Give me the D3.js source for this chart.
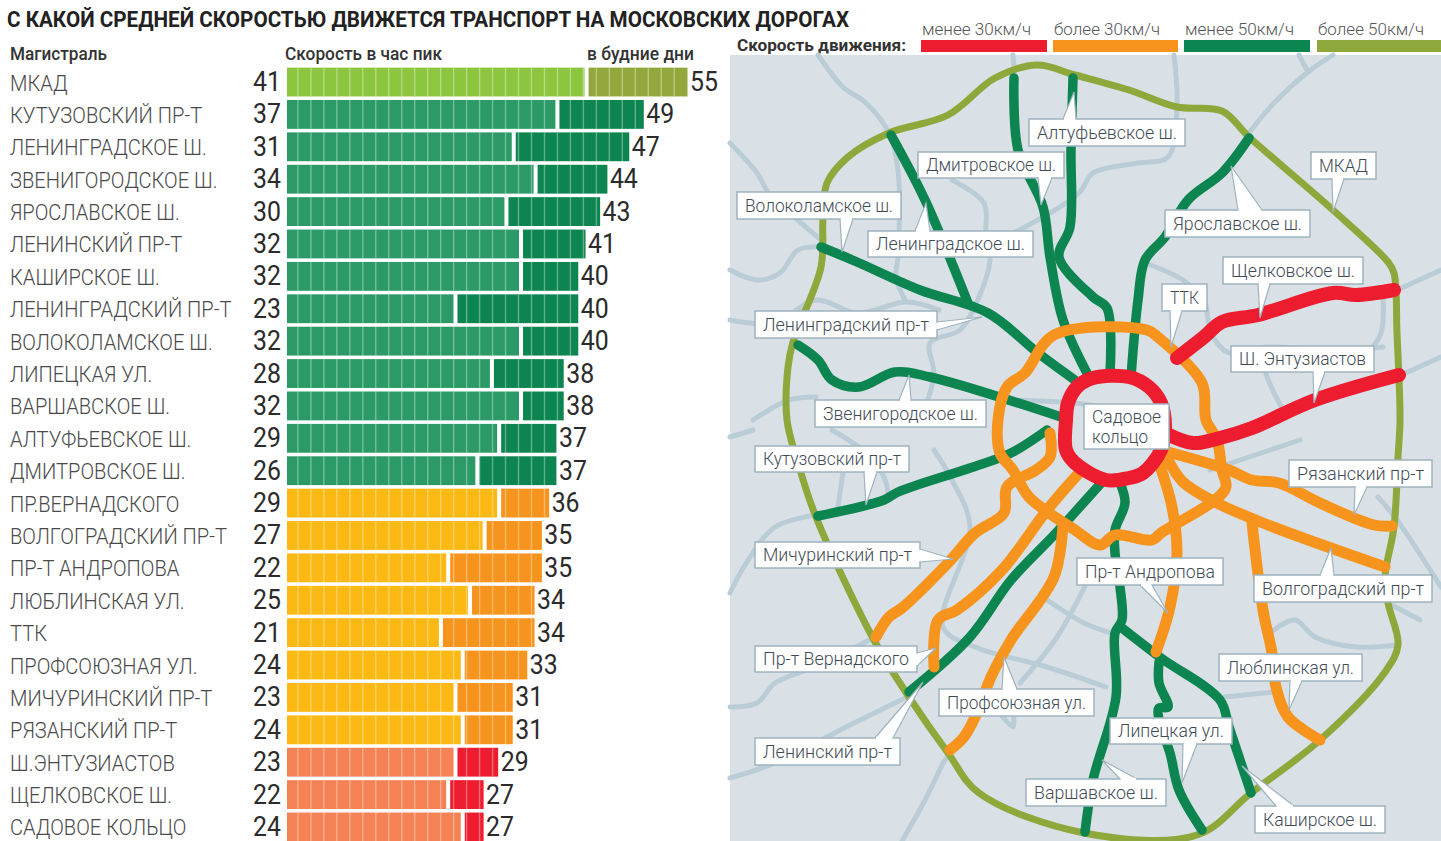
<!DOCTYPE html>
<html><head><meta charset="utf-8">
<script src="https://cdn.jsdelivr.net/npm/d3@7"></script>
<style>html,body{margin:0;padding:0;background:#fff;overflow:hidden}svg{display:block}text{font-family:Roboto,"Liberation Sans",sans-serif}</style>
</head><body><svg id="c" width="1441" height="841"></svg>
<script>
const categories=["МКАД","КУТУЗОВСКИЙ ПР-Т","ЛЕНИНГРАДСКОЕ Ш.","ЗВЕНИГОРОДСКОЕ Ш.","ЯРОСЛАВСКОЕ Ш.","ЛЕНИНСКИЙ ПР-Т","КАШИРСКОЕ Ш.","ЛЕНИНГРАДСКИЙ ПР-Т","ВОЛОКОЛАМСКОЕ Ш.","ЛИПЕЦКАЯ УЛ.","ВАРШАВСКОЕ Ш.","АЛТУФЬЕВСКОЕ Ш.","ДМИТРОВСКОЕ Ш.","ПР.ВЕРНАДСКОГО","ВОЛГОГРАДСКИЙ ПР-Т","ПР-Т АНДРОПОВА","ЛЮБЛИНСКАЯ УЛ.","ТТК","ПРОФСОЮЗНАЯ УЛ.","МИЧУРИНСКИЙ ПР-Т","РЯЗАНСКИЙ ПР-Т","Ш.ЭНТУЗИАСТОВ","ЩЕЛКОВСКОЕ Ш.","САДОВОЕ КОЛЬЦО"];
const peakSpeed=[41,37,31,34,30,32,32,23,32,28,32,29,26,29,27,22,25,21,24,23,24,23,22,24];
const weekdaySpeed=[55,49,47,44,43,41,40,40,40,38,38,37,37,36,35,35,34,34,33,31,31,29,27,27];
const legendLabels=["менее 30км/ч","более 30км/ч","менее 50км/ч","более 50км/ч"];
const roadColors={red:"#ed1c2e",orange:"#f7941d",green:"#0d8550",olive:"#8fa83b"};
const bandColors={olive:["#8cc63f","#93a83c"],green:["#2b9a66","#0d8550"],orange:["#fdb913","#f7941d"],red:["#f58254","#ed1c2e"]};
const gridStep=1.782;
const bgRoads=[
[818,55,843,87,866,103,889,133,898,170,898,257,896,277,905,300],
[730,143,757,173,771,197,800,222,821,240],
[730,270,757,280,780,273,798,250,821,247],
[952,180,984,203,986,233,990,260,979,297,960,330,930,343,934,375,920,420],
[1013,55,1015,78],
[1174,55,1177,107,1168,157,1138,163,1093,173,1079,193,1025,227,985,245],
[1333,55,1308,72,1274,103,1249,133],
[1299,55,1308,72],
[1145,263,1183,280,1204,300,1211,333,1229,353,1270,347,1330,350,1383,347],
[1397,290,1441,270],[1401,375,1441,357],
[1383,293,1381,333,1370,350],
[1265,347,1265,370,1283,410],
[730,320,775,323,816,300,857,313,907,302,939,310],
[753,420,789,400,816,397],
[730,437,753,430],
[832,430,866,453,884,477,889,500],
[843,473,837,513],
[816,515,775,527,745,565,730,593],
[934,450,952,480,970,527,943,627,975,647,1047,667,1106,687],
[1224,697,1274,692],
[730,707,757,703,775,683,820,665,875,637],
[730,778,775,763,850,725,907,697],
[902,841,925,800,943,763],
[943,763,1005,690,1013,727,990,700],
[1093,570,1057,637,1020,683],
[1047,600,1084,623,1111,633],
[1274,630,1295,620,1315,637,1356,647,1397,645],
[1378,497,1397,520,1441,587],
[1388,603,1420,620],
[1210,470,1300,440],
[1007,400,1090,405,1120,415]
];
const mkad=[1037,65,1075,75,1129,90,1177,107,1222,111,1249,137,1333,210,1388,262,1394,273,1397,333,1400,420,1398,457,1394,527,1385,577,1388,603,1398,645,1385,672,1320,740,1251,793,1197,835,1084,833,979,793,948,753,909,697,875,642,816,517,798,463,787,420,788,367,793,342,821,267,823,217,827,183,848,157,889,133,948,115,995,78];
const greenRoads=[
[1073,78,1071,150,1070,227,1059,257,1093,297,1107,308,1110,373],
[1014,78,1018,150,1043,207,1050,257,1063,320,1088,375],
[891,135,925,200,968,303],
[821,247,857,262,920,290,988,313,1038,353,1079,383],
[798,345,818,360,832,380,859,387,895,372,930,377,1061,417],
[1249,138,1222,173,1188,200,1165,237,1145,260,1138,300,1131,377],
[818,516,884,500,898,492,970,468,1011,453,1047,430],
[1102,482,1056,533,1011,580,970,637,909,692],
[1120,483,1125,503,1115,530,1115,553,1120,587,1122,620,1115,633,1116,697,1093,780,1085,832],
[1122,628,1161,658,1220,700,1229,727,1251,793],
[1159,662,1159,683,1168,707,1159,708,1159,720,1170,753,1179,790,1202,830]
];
const orangeRoads=[
[1050,433,1050,457,1036,470,1007,487,1004,513,975,533,948,563,902,608,889,617,876,637],
[1079,473,1047,510,1002,570,957,610,938,620,934,667],
[1063,525,1054,577,1011,640,991,677,977,713,964,737,950,750],
[1159,463,1172,507,1177,553,1170,607,1156,652],
[1168,452,1229,470,1252,480,1279,483,1320,503,1374,525,1392,526],
[1168,460,1183,482,1211,500,1263,523,1385,567],
[1252,523,1263,610,1272,653,1276,687,1288,717,1320,740]
];
const ttkRing=[1054,335,1147,330,1159,338,1202,383,1206,420,1217,440,1222,470,1226,487,1215,500,1161,533,1152,540,1115,535,1100,545,1075,530,1029,497,1013,470,1000,453,998,420,1007,387,1025,373];
const gardenRing=[1093,378,1129,377,1149,387,1161,403,1165,427,1161,450,1143,473,1129,478,1106,480,1075,463,1066,450,1066,420,1068,403,1077,387];
const redRoads=[
[1165,433,1193,443,1220,438,1252,428,1315,400,1399,375],
[1177,358,1204,337,1222,322,1258,315,1333,293,1356,295,1394,290]
];
const calloutNames=["Алтуфьевское ш.","Дмитровское ш.","Волоколамское ш.","Ленинградское ш.","Ярославское ш.","МКАД","Щелковское ш.","ТТК","Ленинградский пр-т","Ш. Энтузиастов","Звенигородское ш.","Кутузовский пр-т","Рязанский пр-т","Мичуринский пр-т","Пр-т Андропова","Волгоградский пр-т","Люблинская ул.","Пр-т Вернадского","Профсоюзная ул.","Липецкая ул.","Ленинский пр-т","Варшавское ш.","Каширское ш."];
const calloutBoxes=[[1029,119,156,27],[918,152,146,26],[737,192,164,27],[868,231,165,26],[1165,210,145,27],[1311,152,65,27],[1223,257,140,27],[1162,284,45,27],[755,311,182,27],[1231,346,143,26],[815,400,171,27],[755,446,154,26],[1289,460,143,27],[755,542,165,26],[1077,558,146,27],[1254,575,178,27],[1219,654,143,27],[755,646,162,26],[939,689,155,27],[1110,718,122,26],[755,738,145,27],[1026,779,140,27],[1255,806,130,27]];
const calloutTails=[[1063,119,1074,92,1076,119],[1038,178,1041,205,1052,178],[840,219,842,252,853,219],[915,231,926,203,930,231],[1238,210,1231,166,1262,210],[1332,179,1333,212,1344,179],[1258,284,1260,318,1270,284],[1170,311,1171,347,1182,311],[937,322,982,317,937,330],[1313,372,1314,403,1325,372],[899,400,909,375,911,400],[864,472,866,505,877,472],[1355,487,1354,515,1367,487],[920,549,953,559,920,562],[1140,585,1168,613,1152,585],[1320,575,1331,548,1334,575],[1290,681,1289,710,1302,681],[917,653,936,648,917,666],[1002,689,1004,657,1017,689],[1183,744,1182,783,1197,744],[875,738,923,682,893,738],[1120,779,1102,760,1137,779],[1276,806,1242,766,1294,806]];
const svg=d3.select("#c");
const x=d3.scaleLinear().domain([0,55]).range([287,687.5]);
const rowY=d3.scaleBand().domain(d3.range(24)).range([66,843]).paddingInner(.11).paddingOuter(.05);
const mx=d3.scaleLinear().domain([730,1441]).range([730,1441]);
const my=d3.scaleLinear().domain([55,841]).range([55,841]);
const pts=a=>d3.range(0,a.length,2).map(i=>[a[i],a[i+1]]);
const line=d3.line().x(p=>mx(p[0])).y(p=>my(p[1])).curve(d3.curveCatmullRom.alpha(.5));
const ring=d3.line().x(p=>mx(p[0])).y(p=>my(p[1])).curve(d3.curveCatmullRomClosed.alpha(.5));
function cond(sel,k){sel.each(function(){const t=this.getComputedTextLength();this.setAttribute("textLength",t*k);this.setAttribute("lengthAdjust","spacingAndGlyphs")});return sel}
function fit(sel,w){sel.attr("textLength",w).attr("lengthAdjust","spacingAndGlyphs");return sel}
fit(svg.append("text").attr("x",7).attr("y",27).attr("font-size",22.5).attr("font-weight",700).attr("fill","#222").text("С КАКОЙ СРЕДНЕЙ СКОРОСТЬЮ ДВИЖЕТСЯ ТРАНСПОРТ НА МОСКОВСКИХ ДОРОГАХ"),842);
[["Магистраль",10,97],["Скорость в час пик",285,157],["в будние дни",587,107]].forEach(d=>{fit(svg.append("text").attr("x",d[1]).attr("y",60).attr("font-size",18).attr("font-weight",500).attr("fill","#333").text(d[0]),d[2])});
const group=i=>i===0?"olive":i<=12?"green":i<=20?"orange":"red";
const gridVals=d3.range(0,60).map(k=>(1.5+k*gridStep));
categories.forEach((name,i)=>{
 const y=rowY(i),h=rowY.bandwidth(),cy=y+h/2,c=bandColors[group(i)];
 cond(svg.append("text").attr("x",10).attr("y",cy+8.5).attr("font-size",22).attr("font-weight",300).attr("fill","#4a4a4a").text(name),.915);
 const xp=x(peakSpeed[i])-1,xw=x(weekdaySpeed[i]);
 svg.append("rect").attr("x",x(0)).attr("y",y).attr("width",xp-x(0)).attr("height",h).attr("fill",c[0]);
 svg.append("rect").attr("x",xp+4).attr("y",y).attr("width",xw-xp-4).attr("height",h).attr("fill",c[1]);
 gridVals.filter(v=>x(v)<xw-1&&!(x(v)>xp-1&&x(v)<xp+4)).forEach(v=>{
  svg.append("line").attr("x1",x(v)).attr("x2",x(v)).attr("y1",y).attr("y2",y+h).attr("stroke","#fff").attr("stroke-opacity",.35).attr("stroke-width",1.4);
 });
 cond(svg.append("text").attr("x",281).attr("y",cy+9).attr("text-anchor","end").attr("font-size",27).attr("font-weight",400).attr("fill","#2b2b2b").text(peakSpeed[i]),.92);
 cond(svg.append("text").attr("x",xw+2.5).attr("y",cy+9).attr("font-size",27).attr("font-weight",400).attr("fill","#2b2b2b").text(weekdaySpeed[i]),.92);
});
fit(svg.append("text").attr("x",737).attr("y",51).attr("font-size",16).attr("font-weight",700).attr("fill","#333").text("Скорость движения:"),169);
const legendX=[921,1053,1184,1317],legendW=[126,125,126,124],legendC=[roadColors.red,roadColors.orange,roadColors.green,roadColors.olive],legendT=[109,106,109,106];
legendLabels.forEach((t,i)=>{
 svg.append("rect").attr("x",legendX[i]).attr("y",40).attr("width",legendW[i]).attr("height",12).attr("fill",legendC[i]);
 fit(svg.append("text").attr("x",legendX[i]+1).attr("y",35).attr("font-size",17).attr("font-weight",300).attr("fill","#555").text(t),legendT[i]);
});
svg.append("rect").attr("x",730).attr("y",55).attr("width",711).attr("height",786).attr("fill","#d9e1e7");
const g=svg.append("g").attr("fill","none").attr("stroke-linecap","round").attr("stroke-linejoin","round");
bgRoads.forEach(r=>g.append("path").attr("d",line(pts(r))).attr("stroke","#bacdd7").attr("stroke-width",5));
g.append("path").attr("d",ring(pts(mkad))).attr("stroke",roadColors.olive).attr("stroke-width",7);
greenRoads.forEach(r=>g.append("path").attr("d",line(pts(r))).attr("stroke",roadColors.green).attr("stroke-width",9.5));
g.append("path").attr("d",ring(pts(ttkRing))).attr("stroke",roadColors.orange).attr("stroke-width",11);
orangeRoads.forEach(r=>g.append("path").attr("d",line(pts(r))).attr("stroke",roadColors.orange).attr("stroke-width",11));
redRoads.forEach(r=>g.append("path").attr("d",line(pts(r))).attr("stroke",roadColors.red).attr("stroke-width",14));
g.append("path").attr("d",ring(pts(gardenRing))).attr("stroke",roadColors.red).attr("stroke-width",14);
const lg=svg.append("g");
const boxStroke="#9fb3bf";
calloutNames.forEach((t,i)=>{
 const b=calloutBoxes[i],p=pts(calloutTails[i]);
 lg.append("rect").attr("x",mx(b[0])).attr("y",my(b[1])).attr("width",b[2]).attr("height",b[3]).attr("fill","#fff").attr("stroke",boxStroke).attr("stroke-width",1.5);
 lg.append("path").attr("d","M"+p.map(q=>[mx(q[0]),my(q[1])]).join("L")).attr("fill","#fff").attr("stroke",boxStroke).attr("stroke-width",1.2);
 const a=p[0],c=p[2];
 lg.append("line").attr("x1",mx(a[0])+(a[1]===c[1]?1:0)).attr("x2",mx(c[0])-(a[1]===c[1]?1:0)).attr("y1",my(a[1])+(a[0]===c[0]?1:0)).attr("y2",my(c[1])-(a[0]===c[0]?1:0)).attr("stroke","#fff").attr("stroke-width",2.5);
 fit(lg.append("text").attr("x",mx(b[0])+8).attr("y",my(b[1])+b[3]/2+6).attr("font-size",18).attr("font-weight",300).attr("fill","#3f4c56").text(t),b[2]-16);
});
lg.append("rect").attr("x",1084).attr("y",404).attr("width",85).attr("height",45).attr("fill","#fff").attr("stroke",boxStroke).attr("stroke-width",1.5);
[["Садовое",423,69],["кольцо",443,56]].forEach(d=>fit(lg.append("text").attr("x",1092).attr("y",d[1]).attr("font-size",18).attr("font-weight",300).attr("fill","#3f4c56").text(d[0]),d[2]));
</script></body></html>
